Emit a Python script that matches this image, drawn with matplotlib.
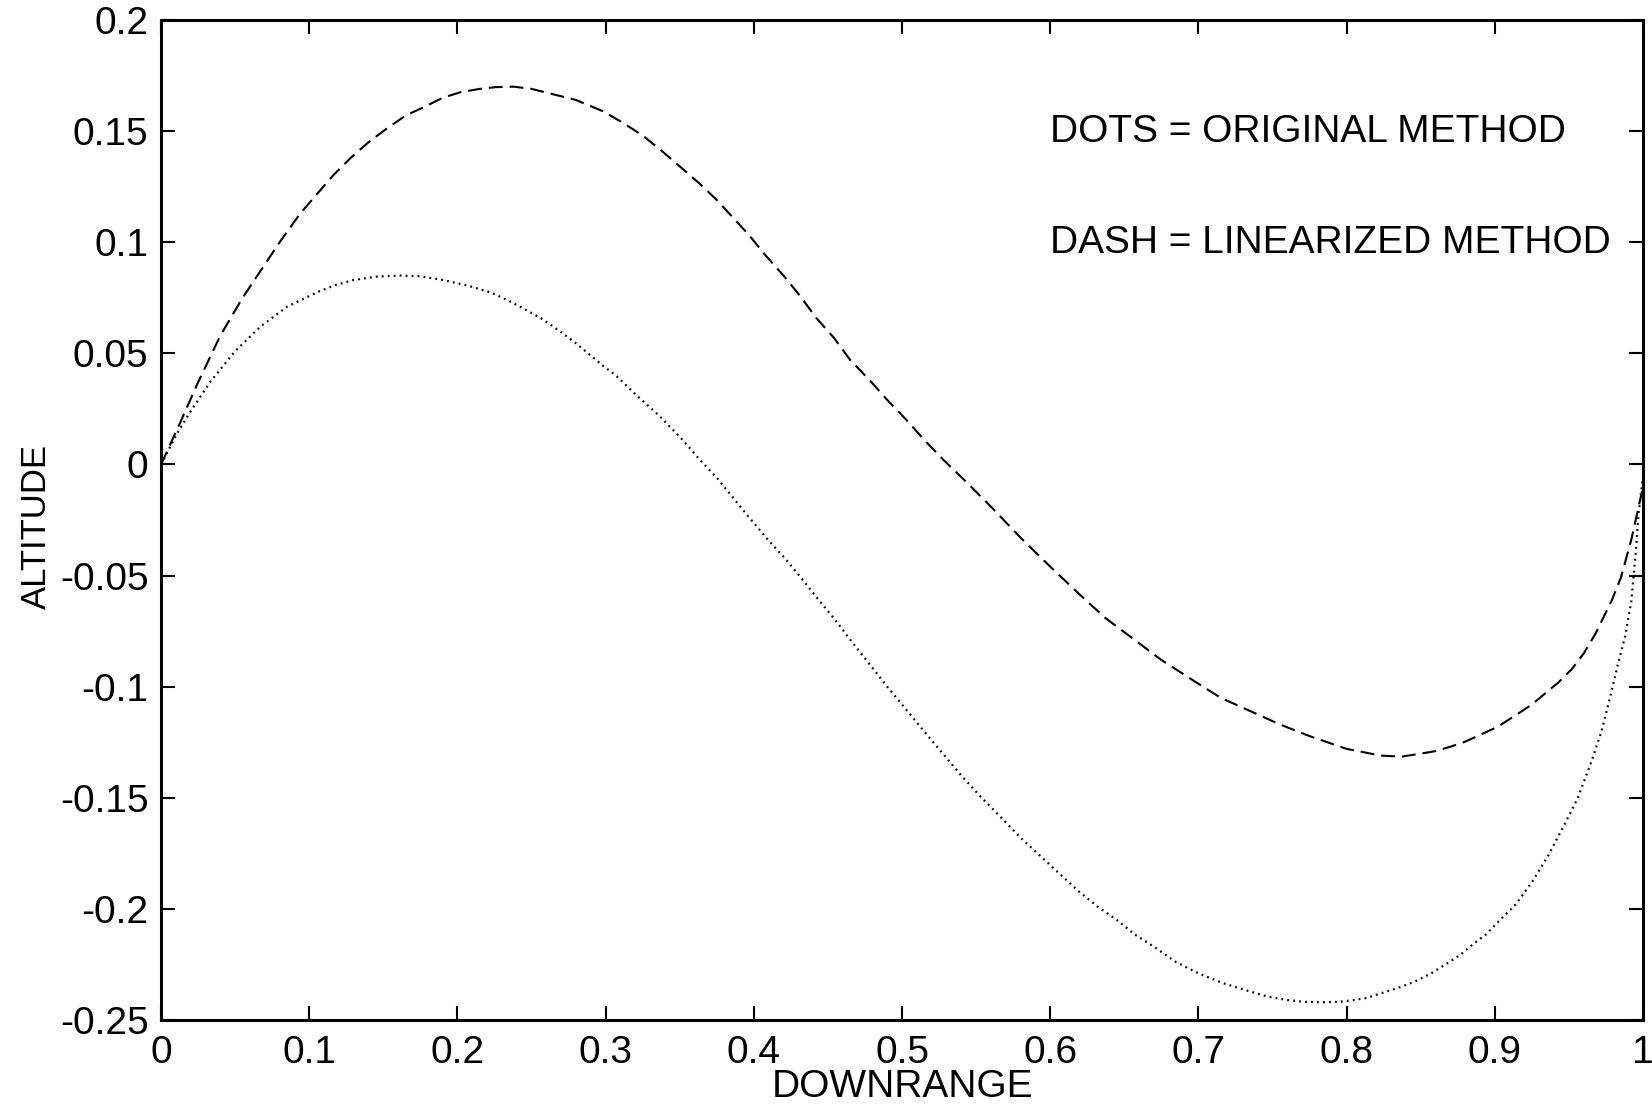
import matplotlib
matplotlib.use("Agg")
import matplotlib.pyplot as plt

# values (downrange, altitude)
dash_x = [0.000, 0.013, 0.025, 0.040, 0.055, 0.067, 0.080, 0.094, 0.116, 0.128,
          0.140, 0.152, 0.165, 0.178, 0.190, 0.202, 0.215, 0.226, 0.238, 0.250,
          0.262, 0.280, 0.298, 0.311, 0.325, 0.338, 0.352, 0.364, 0.375, 0.386,
          0.397, 0.408, 0.420, 0.431, 0.442, 0.454, 0.465, 0.478, 0.490, 0.503,
          0.515, 0.528, 0.542, 0.560, 0.580, 0.600, 0.619, 0.637, 0.655, 0.675,
          0.696, 0.715, 0.735, 0.755, 0.774, 0.787, 0.800, 0.823, 0.837, 0.851,
          0.860, 0.870, 0.879, 0.889, 0.902, 0.916, 0.925, 0.934, 0.943, 0.952,
          0.960, 0.968, 0.979, 0.985, 0.992, 0.997, 1.000]
dash_y = [0.000, 0.019, 0.037, 0.058, 0.075, 0.087, 0.100, 0.113, 0.130, 0.138,
          0.145, 0.151, 0.157, 0.161, 0.165, 0.1675, 0.169, 0.1698, 0.170, 0.169,
          0.167, 0.164, 0.159, 0.154, 0.148, 0.141, 0.133, 0.126, 0.119, 0.111,
          0.103, 0.094, 0.085, 0.076, 0.066, 0.057, 0.047, 0.038, 0.029, 0.020,
          0.011, 0.002, -0.007, -0.019, -0.033, -0.046, -0.058, -0.069, -0.078, -0.088,
          -0.097, -0.105, -0.111, -0.117, -0.122, -0.125, -0.128, -0.131, -0.1315, -0.130,
          -0.129, -0.127, -0.125, -0.122, -0.118, -0.112, -0.108, -0.103, -0.098, -0.092,
          -0.085, -0.076, -0.061, -0.051, -0.034, -0.019, -0.010]

dots_x = [0.000, 0.010, 0.020, 0.033, 0.050, 0.067, 0.085, 0.107, 0.118, 0.130,
          0.145, 0.161, 0.175, 0.190, 0.207, 0.224, 0.235, 0.245, 0.257, 0.269,
          0.280, 0.290, 0.298, 0.307, 0.321, 0.336, 0.344, 0.352, 0.363, 0.375,
          0.386, 0.397, 0.409, 0.422, 0.433, 0.445, 0.455, 0.464, 0.477, 0.490,
          0.503, 0.516, 0.528, 0.540, 0.553, 0.567, 0.580, 0.593, 0.606, 0.619,
          0.632, 0.645, 0.657, 0.670, 0.685, 0.700, 0.717, 0.734, 0.747, 0.760,
          0.771, 0.783, 0.795, 0.805, 0.814, 0.823, 0.834, 0.845, 0.857, 0.869,
          0.877, 0.885, 0.894, 0.902, 0.914, 0.925, 0.936, 0.947, 0.956, 0.965,
          0.972, 0.978, 0.983, 0.988, 0.992, 0.995, 0.997, 1.000]
dots_y = [0.000, 0.013, 0.024, 0.037, 0.051, 0.062, 0.071, 0.078, 0.0808, 0.083,
          0.0845, 0.085, 0.0847, 0.083, 0.0805, 0.077, 0.0735, 0.070, 0.0655, 0.060,
          0.0545, 0.049, 0.0445, 0.040, 0.031, 0.022, 0.0165, 0.011, 0.0025, -0.006,
          -0.015, -0.024, -0.0335, -0.043, -0.052, -0.062, -0.070, -0.078, -0.089, -0.100,
          -0.1105, -0.121, -0.1305, -0.140, -0.1495, -0.159, -0.168, -0.176, -0.184, -0.192,
          -0.199, -0.205, -0.2115, -0.217, -0.224, -0.229, -0.2335, -0.237, -0.2395, -0.241,
          -0.2418, -0.242, -0.2418, -0.241, -0.240, -0.238, -0.2357, -0.233, -0.229, -0.224,
          -0.2205, -0.216, -0.2115, -0.206, -0.198, -0.188, -0.176, -0.162, -0.150, -0.134,
          -0.120, -0.104, -0.090, -0.077, -0.062, -0.040, -0.022, -0.005]

x_ticks = [0.0, 0.1, 0.2, 0.3, 0.4, 0.5, 0.6, 0.7, 0.8, 0.9, 1.0]
x_labels = ["0", "0.1", "0.2", "0.3", "0.4", "0.5", "0.6", "0.7", "0.8", "0.9", "1"]
y_ticks = [-0.25, -0.2, -0.15, -0.1, -0.05, 0.0, 0.05, 0.1, 0.15, 0.2]
y_labels = ["-0.25", "-0.2", "-0.15", "-0.1", "-0.05", "0", "0.05", "0.1", "0.15", "0.2"]

notes = ["DOTS = ORIGINAL METHOD", "DASH = LINEARIZED METHOD"]
note_y = [0.15, 0.10]


def main():
    plt.rcParams["font.family"] = ["Liberation Sans", "DejaVu Sans"]
    plt.rcParams["lines.scale_dashes"] = False

    fig = plt.figure(figsize=(16.52, 11.05), dpi=100)
    ax = fig.add_axes([0.0975, 0.0769, 0.8971, 0.905])

    ax.plot(dash_x, dash_y, color="black", linewidth=1.5, dashes=(10, 5))
    ax.plot(dots_x, dots_y, color="black", linewidth=1.6, dashes=(1.3, 3.0))

    ax.set_xlim(0, 1)
    ax.set_ylim(-0.25, 0.2)
    ax.set_xticks(x_ticks, labels=x_labels)
    ax.set_yticks(y_ticks, labels=y_labels)
    ax.tick_params(direction="in", length=10, width=1.5, top=True, right=True,
                   labelsize=28, colors="black")
    ax.tick_params(axis="x", pad=11)
    ax.tick_params(axis="y", pad=9)
    for spine in ax.spines.values():
        spine.set_linewidth(2.2)

    ax.set_xlabel("DOWNRANGE", fontsize=28, labelpad=-2)
    ax.set_ylabel("ALTITUDE", fontsize=25)
    ax.yaxis.set_label_coords(-0.073, 0.494)

    for txt, yv in zip(notes, note_y):
        ax.text(0.6, yv - 0.005, txt, fontsize=28, ha="left", va="baseline")

    fig.savefig("out.png", dpi=100)


if __name__ == "__main__":
    main()
